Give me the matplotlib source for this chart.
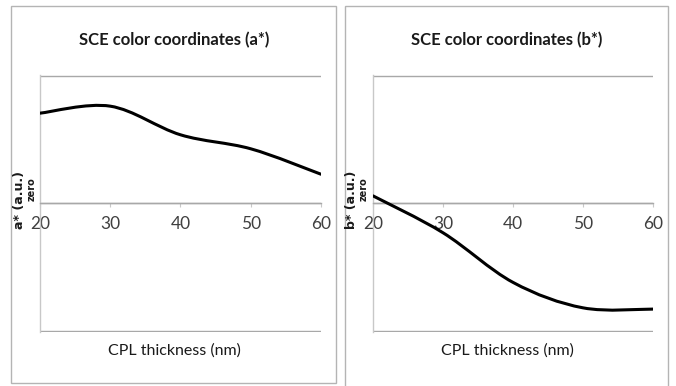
import matplotlib
matplotlib.use("Agg")
import matplotlib.pyplot as plt
from matplotlib.path import Path
from matplotlib.patches import PathPatch, Rectangle
import numpy as np

thickness = [20, 30, 40, 50, 60]
a_star = [0.71, 0.765, 0.54, 0.43, 0.23]
b_star = [0.06, -0.23, -0.62, -0.82, -0.83]
xticks = [20, 30, 40, 50, 60]
titles = ["SCE color coordinates (a*)", "SCE color coordinates (b*)"]
ylabels = ["a* (a.u.)", "b* (a.u.)"]
xlabel = "CPL thickness (nm)"

NARROW = ["Lato", "DejaVu Sans"]
W, H = 676, 386
fig = plt.figure(figsize=(W / 100, H / 100), dpi=100)


def fx(px):
    return px / W


def fy(py):
    return 1 - py / H


def smooth_path(xs, ys):
    pts = np.column_stack([xs, ys]).astype(float)
    n = len(pts)
    verts = [pts[0]]
    codes = [Path.MOVETO]
    for i in range(n - 1):
        p0 = pts[max(i - 1, 0)]
        p1 = pts[i]
        p2 = pts[i + 1]
        p3 = pts[min(i + 2, n - 1)]
        c1 = p1 + (p2 - p0) / 6
        c2 = p2 - (p3 - p1) / 6
        verts += [c1, c2, p2]
        codes += [Path.CURVE4] * 3
    return Path(verts, codes)


# panel borders
for (x0, x1, y0, y1) in [(11, 336, 6, 383), (345, 668, 6, 392)]:
    fig.patches.append(Rectangle((fx(x0), fy(y1)), fx(x1) - fx(x0), fy(y0) - fy(y1),
                                 transform=fig.transFigure, fill=False,
                                 edgecolor="#b4b4b4", lw=1.0))

panels = [
    dict(left=40, right=321, data=a_star, title_x=174, ylab_x=19, zero_x=32),
    dict(left=373, right=653, data=b_star, title_x=507, ylab_x=351, zero_x=364),
]
top_px, bot_px = 75, 332

for k, p in enumerate(panels):
    ax = fig.add_axes([fx(p["left"]), fy(bot_px), fx(p["right"]) - fx(p["left"]),
                       fy(top_px) - fy(bot_px)])
    ax.set_xlim(20, 60)
    ax.set_ylim(-1.01, 1.01)
    ax.set_facecolor("none")
    for s in ["top", "right"]:
        ax.spines[s].set_visible(False)
    ax.spines["left"].set_color("#c8c8c8")
    ax.spines["left"].set_linewidth(1.0)
    ax.spines["bottom"].set_position(("data", 0))
    ax.spines["bottom"].set_color("#a8a8a8")
    ax.spines["bottom"].set_linewidth(1.0)
    ax.set_yticks([-1, 0, 1])
    ax.set_yticklabels([])
    ax.tick_params(axis="y", length=0)
    ax.yaxis.grid(True, color="#a8a8a8", lw=1.0)
    ax.set_axisbelow(True)
    ax.set_xticks(xticks)
    ax.set_xticklabels([str(t) for t in xticks])
    ax.tick_params(axis="x", direction="out", length=3, color="#c8c8c8",
                   labelcolor="#404040", labelsize=12.5, pad=6)
    for lab in ax.get_xticklabels():
        lab.set_family(NARROW)
    patch = PathPatch(smooth_path(thickness, p["data"]), fill=False,
                      edgecolor="black", lw=2.2, capstyle="round", zorder=5)
    ax.add_patch(patch)

    fig.text(fx(p["title_x"]), fy(40), titles[k], ha="center", va="center",
             fontsize=12, fontweight="bold", family=NARROW, color="#1a1a1a")
    fig.text(fx(p["title_x"]), fy(351), xlabel, ha="center", va="center",
             fontsize=11.5, family=NARROW, color="#1a1a1a")
    fig.text(fx(p["ylab_x"]), fy(200), ylabels[k], ha="center", va="center",
             rotation=90, fontsize=9, fontweight="bold", color="#1a1a1a")
    fig.text(fx(p["zero_x"]), fy(189), "zero", ha="center", va="center",
             rotation=90, fontsize=7, fontweight="bold", color="#1a1a1a")

fig.savefig("out.png", dpi=100)
